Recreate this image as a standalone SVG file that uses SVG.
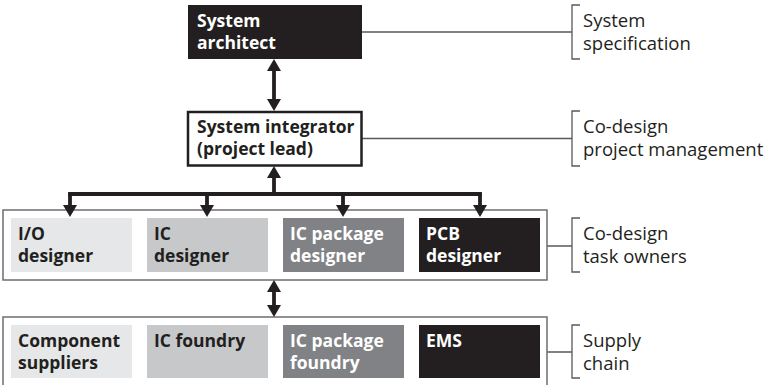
<svg xmlns="http://www.w3.org/2000/svg" width="768" height="385" viewBox="0 0 768 385">
<style>
.lbl{font-family:"Open Sans","Noto Sans","Liberation Sans",sans-serif;font-size:17.5px;font-weight:700}
.side{font-family:"Open Sans","Noto Sans","Liberation Sans",sans-serif;font-size:18.5px;font-weight:400;fill:#231f20}
.dk{fill:#231f20}
.wt{fill:#ffffff}
.outer{fill:none;stroke:#6d6e71;stroke-width:1.5}
.tie{fill:none;stroke:#58595b;stroke-width:1.3}
.arr{fill:none;stroke:#231f20;stroke-width:3.8}
</style>
<defs>
<marker id="ah" viewBox="0 0 12 14" refX="0" refY="7" markerWidth="12" markerHeight="14" markerUnits="userSpaceOnUse" orient="auto-start-reverse">
<path d="M0,0 L12,7 L0,14 z" fill="#231f20"/>
</marker>
</defs>

<g id="ties">
<path class="tie" d="M362,32 H572 M362,138.5 H572 M547,246 H572 M547,352 H572"/>
<path class="tie" d="M580,5 H572 V59 H580"/>
<path class="tie" d="M580,111 H572 V166 H580"/>
<path class="tie" d="M580,218 H572 V272 H580"/>
<path class="tie" d="M580,325 H572 V378 H580"/>
</g>

<g id="group-task-owners">
<rect class="outer" x="3" y="210" width="544" height="70"/>
</g>
<g id="group-supply-chain">
<path class="outer" d="M3,395 V317 H547 V395"/>
</g>

<g id="system-architect">
<rect x="188" y="5" width="174" height="54" fill="#231f20"/>
<text class="lbl wt" x="197" y="27">System</text>
<text class="lbl wt" x="197" y="49">architect</text>
</g>

<g id="system-integrator">
<rect x="188" y="112" width="173.5" height="53.5" fill="#ffffff" stroke="#231f20" stroke-width="2.5"/>
<text class="lbl dk" x="197" y="133">System integrator</text>
<text class="lbl dk" x="197" y="155">(project lead)</text>
</g>

<g id="io-designer">
<rect x="11" y="218" width="121" height="54" fill="#e6e7e8"/>
<text class="lbl dk" x="18" y="240">I/O</text>
<text class="lbl dk" x="18" y="262">designer</text>
</g>
<g id="ic-designer">
<rect x="147" y="218" width="121" height="54" fill="#c7c8ca"/>
<text class="lbl dk" x="154" y="240">IC</text>
<text class="lbl dk" x="154" y="262">designer</text>
</g>
<g id="ic-package-designer">
<rect x="283" y="218" width="121" height="54" fill="#808285"/>
<text class="lbl wt" x="290" y="240">IC package</text>
<text class="lbl wt" x="290" y="262">designer</text>
</g>
<g id="pcb-designer">
<rect x="419" y="218" width="121" height="54" fill="#231f20"/>
<text class="lbl wt" x="426" y="240">PCB</text>
<text class="lbl wt" x="426" y="262">designer</text>
</g>

<g id="component-suppliers">
<rect x="11" y="325" width="121" height="53" fill="#e6e7e8"/>
<text class="lbl dk" x="18" y="347">Component</text>
<text class="lbl dk" x="18" y="369">suppliers</text>
</g>
<g id="ic-foundry">
<rect x="147" y="325" width="121" height="53" fill="#c7c8ca"/>
<text class="lbl dk" x="154" y="347">IC foundry</text>
</g>
<g id="ic-package-foundry">
<rect x="283" y="325" width="121" height="53" fill="#808285"/>
<text class="lbl wt" x="290" y="347">IC package</text>
<text class="lbl wt" x="290" y="369">foundry</text>
</g>
<g id="ems">
<rect x="419" y="325" width="121" height="53" fill="#231f20"/>
<text class="lbl wt" x="426" y="347">EMS</text>
</g>

<g id="side-labels">
<text class="side" x="583" y="27">System</text>
<text class="side" x="583" y="50">specification</text>
<text class="side" x="583" y="133">Co-design</text>
<text class="side" x="583" y="156">project management</text>
<text class="side" x="583" y="240">Co-design</text>
<text class="side" x="583" y="263">task owners</text>
<text class="side" x="583" y="347">Supply</text>
<text class="side" x="583" y="370">chain</text>
</g>

<g id="connectors">
<line class="arr" x1="274" y1="71" x2="274" y2="99" marker-start="url(#ah)" marker-end="url(#ah)"/>
<line class="arr" x1="274" y1="195" x2="274" y2="178" marker-end="url(#ah)"/>
<line class="arr" x1="70" y1="194" x2="480" y2="194" stroke-linecap="square"/>
<line class="arr" x1="70" y1="193" x2="70" y2="205" marker-end="url(#ah)"/>
<line class="arr" x1="207" y1="193" x2="207" y2="205" marker-end="url(#ah)"/>
<line class="arr" x1="343" y1="193" x2="343" y2="205" marker-end="url(#ah)"/>
<line class="arr" x1="480" y1="193" x2="480" y2="205" marker-end="url(#ah)"/>
<line class="arr" x1="274" y1="292" x2="274" y2="305" marker-start="url(#ah)" marker-end="url(#ah)"/>
</g>
</svg>
